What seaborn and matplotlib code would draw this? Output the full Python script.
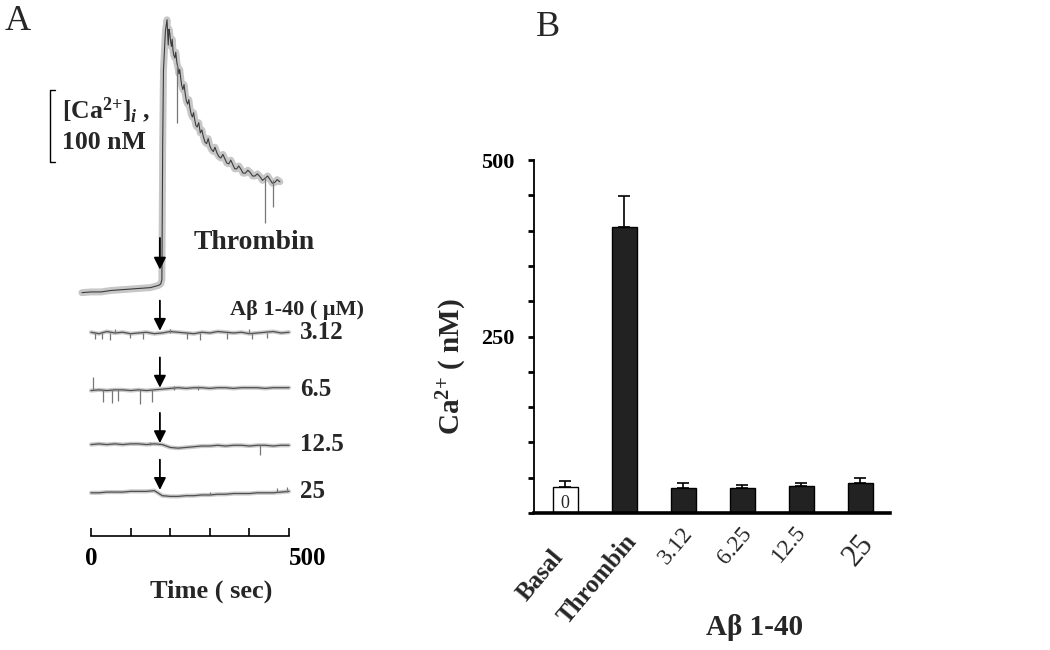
import matplotlib
matplotlib.use("Agg")
import matplotlib.pyplot as plt
import matplotlib.transforms as mtransforms
import seaborn as sns

sns.set_theme(style="white")
plt.rcParams["font.family"] = ["Liberation Serif", "DejaVu Serif"]
plt.rcParams["mathtext.fontset"] = "custom"
plt.rcParams["mathtext.rm"] = "Liberation Serif"
plt.rcParams["mathtext.bf"] = "Liberation Serif:bold"
plt.rcParams["mathtext.it"] = "Liberation Serif:italic:bold"

# ---------------- panel B: mean [Ca2+] (nM)
conditions = ["Basal", "Thrombin", "3.12", "6.25", "12.5", "25"]
ca_mean = [37, 405, 36, 36, 38, 42]
ca_err = [9, 44, 6, 4, 4, 8]
bar_colors = ["white", "#222222", "#222222", "#222222", "#222222", "#222222"]
label_bold = [True, True, False, False, False, False]
label_size = [18, 18, 17, 17, 17, 22]
# label anchor nudges in px (right, down) from bar centre / axis line
label_nudge = [(-15, 33), (-1, 17), (-2, 10), (-2, 10), (-7, 8), (-3, 16)]

# ---------------- panel A: traces (time in sec, Ca in nM above baseline)
thr_t = [-23, 0, 25, 50, 75, 100, 125, 150, 170, 176, 179, 181, 183, 188, 192,
         195, 197, 199, 201, 203, 205, 207, 209, 212, 214, 217, 219, 222, 224, 227,
         229, 232, 235, 238, 241, 244, 247, 250, 253, 256, 259, 262, 265, 268, 272,
         276, 280, 284, 288, 292, 296, 300, 304, 309, 313, 318, 323, 328, 333, 338,
         343, 348, 353, 358, 363, 368, 373, 378, 384, 390, 396, 402, 408, 414, 420,
         427, 433, 440, 446, 452, 458, 464, 470, 477]
thr_ca = [-4, -3, -3, -1, 0, 1, 2, 3, 6, 8, 14, 200, 305, 360, 375,
          340, 362, 356, 345, 338, 348, 333, 326, 322, 330, 315, 310, 300, 306, 292,
          284, 278, 285, 272, 262, 258, 264, 252, 244, 240, 246, 236, 228, 226, 232,
          218, 222, 212, 205, 203, 210, 200, 195, 192, 198, 190, 185, 183, 188, 182,
          176, 175, 180, 174, 168, 168, 172, 168, 162, 162, 166, 163, 158, 158, 161,
          157, 152, 155, 158, 153, 148, 149, 153, 150]
thr_spike_t = [217, 439, 460]
thr_spike_top = [312, 156, 153]
thr_spike_bottom = [232, 93, 115]

flat_t = [0, 20, 40, 60, 80, 100, 120, 140, 160, 180, 200, 220, 240,
          260, 280, 300, 320, 340, 360, 380, 400, 420, 440, 460, 480, 500]
ca_312 = [1, -1, 2, 0, 1, -1, 0, 1, -1, 0, 2, 1, 0, -1, 1, 0, 2, 1, 0, 1, -1, 0, 1, 2, 0, 1]
ca_65 = [-1, 0, -1, 0, 0, -1, 0, -1, 0, 1, 2, 3, 2, 3, 3, 2, 3, 3, 2, 3, 3, 3, 2, 3, 3, 3]
ca_125 = [1, 2, 1, 2, 1, 2, 2, 1, 2, 1, -3, -4, -3, -2, -1, -1, 0, -1, 0, 0, -1, 0, 0, -1, 0, 0]
ca_25 = [-1, -1, 0, 0, 0, 1, 1, 1, 2, -5, -6, -6, -5, -5, -4, -4, -3, -3, -2, -2, -2, -1, -1, -1, 0, 1]
flat_series = [ca_312, ca_65, ca_125, ca_25]
flat_names = ["3.12", "6.5", "12.5", "25"]

spike_t = [[10, 28, 48, 60, 98, 131, 200, 242, 275, 343, 400, 407, 444],
           [5, 30, 53, 68, 124, 154, 210, 270],
           [150, 427],
           [300, 470, 495]]
spike_d = [[-9, -8, -10, 5, -7, -9, 5, -8, -10, -8, 5, -9, -7],
           [18, -17, -18, -15, -20, -17, 6, 5],
           [5, -13],
           [-4, 5, 7]]

addition_t = 174       # time of thrombin / Abeta addition (sec)
scale_nM = 100

# vertical stacking of traces in panel A (layout)
thr_offset = 342
flat_offsets = [282, 203, 126, 61]

fig = plt.figure(figsize=(10.5, 6.5), dpi=100)

# ================= panel A
axA = fig.add_axes([91 / 1050, 114 / 650, 198 / 1050, 526 / 650])
axA.set_xlim(0, 500)
axA.set_ylim(0, 730.6)

thr_y = [v + thr_offset for v in thr_ca]
sns.lineplot(x=thr_t, y=thr_y, ax=axA, color="#9a9a9a", lw=5, alpha=0.55,
             sort=False, estimator=None)
sns.lineplot(x=thr_t, y=thr_y, ax=axA, color="#3c3c3c", lw=0.8,
             sort=False, estimator=None)
axA.vlines(thr_spike_t, [v + thr_offset for v in thr_spike_bottom],
           [v + thr_offset for v in thr_spike_top], color="#777777", lw=0.9)

for vals, off, sp_t, sp_d in zip(flat_series, flat_offsets, spike_t, spike_d):
    y = [v + off for v in vals]
    sns.lineplot(x=flat_t, y=y, ax=axA, color="#a8a8a8", lw=3, alpha=0.6,
                 sort=False, estimator=None)
    sns.lineplot(x=flat_t, y=y, ax=axA, color="#505050", lw=0.9,
                 sort=False, estimator=None)
    axA.vlines(sp_t, off, [off + d for d in sp_d], color="#777777", lw=0.9)

for line in axA.lines:
    line.set_clip_on(False)
for coll in axA.collections:
    coll.set_clip_on(False)

arrow_kw = dict(arrowstyle="-|>", color="black", lw=1.3, mutation_scale=18,
                shrinkA=0, shrinkB=0)
axA.annotate("", xy=(addition_t, thr_offset + 28), xytext=(addition_t, thr_offset + 72),
             arrowprops=arrow_kw, annotation_clip=False)
for off in flat_offsets:
    axA.annotate("", xy=(addition_t, off + 3), xytext=(addition_t, off + 45),
                 arrowprops=arrow_kw, annotation_clip=False)

axA.text(258, 407, "Thrombin", fontsize=20, fontweight="bold", va="center", ha="left")
axA.text(351, 314, "Aβ 1-40 ( μM)", fontsize=16, fontweight="bold", va="center",
         ha="left", clip_on=False)
for name, off in zip(flat_names, flat_offsets):
    axA.text(528, off + 1, name, fontsize=18, fontweight="bold", va="center", ha="left",
             clip_on=False)

# scale bar
sb_x, sb_y0 = -103.5, 520
axA.plot([sb_x + 12, sb_x, sb_x, sb_x + 12], [sb_y0, sb_y0, sb_y0 + scale_nM, sb_y0 + scale_nM],
         color="black", lw=1.0, clip_on=False)
axA.text(-73, 592, r"[Ca$^{\mathbf{2{+}}}$]$_{\mathit{i}}$ ,", fontsize=18.5,
         fontweight="bold", va="center", ha="left")
axA.text(-73, 546, f"{scale_nM} nM", fontsize=18.5, fontweight="bold", va="center", ha="left")

for side in ["top", "right", "left"]:
    axA.spines[side].set_visible(False)
axA.spines["bottom"].set_color("black")
axA.spines["bottom"].set_linewidth(1.2)
axA.set_yticks([])
axA.set_xticks([0, 100, 200, 300, 400, 500])
axA.set_xticklabels(["0", "", "", "", "", "500"], fontsize=18, fontweight="bold")
axA.tick_params(axis="x", direction="in", length=6, width=1.2, pad=8, colors="black",
                bottom=True)
axA.get_xticklabels()[-1].set_ha("left")
axA.set_xlabel("Time ( sec)", fontsize=19, fontweight="bold")
axA.xaxis.set_label_coords(0.606, -0.083)
axA.patch.set_alpha(0)

# ================= panel B
axB = fig.add_axes([534 / 1050, 137 / 650, 356 / 1050, 353 / 650])
sns.barplot(x=conditions, y=ca_mean, hue=conditions, palette=bar_colors, legend=False,
            order=conditions, width=0.42, edgecolor="black", linewidth=1.0, ax=axB)
axB.errorbar(range(len(conditions)), ca_mean, yerr=[[0] * len(ca_err), ca_err],
             fmt="none", ecolor="black", elinewidth=1.2, capsize=4, capthick=1.2)
axB.set_xlim(-0.53, 5.5)
axB.set_ylim(0, 500)
axB.set_yticks(list(range(0, 501, 50)))
axB.set_yticklabels(["250" if v == 250 else "500" if v == 500 else "" for v in range(0, 501, 50)],
                    fontsize=16, fontweight="bold")
axB.tick_params(axis="y", direction="out", length=4, width=2, pad=10, left=True,
                colors="black")
axB.set_xticks([])
for side in ["top", "right"]:
    axB.spines[side].set_visible(False)
axB.spines["left"].set_color("black")
axB.spines["left"].set_linewidth(1.3)
axB.spines["bottom"].set_color("black")
axB.spines["bottom"].set_linewidth(2.6)

axB.text(0, 14, "0", fontsize=13, ha="center", va="center")

for i, (name, bold, size, (dx, dy)) in enumerate(zip(conditions, label_bold, label_size,
                                                     label_nudge)):
    shift = mtransforms.ScaledTranslation(dx / 100, -dy / 100, fig.dpi_scale_trans)
    axB.text(i, 0, name, transform=axB.get_xaxis_transform() + shift, rotation=50,
             rotation_mode="anchor", ha="right", va="top", fontsize=size,
             fontweight="bold" if bold else "normal")

axB.set_ylabel(r"Ca$^{\mathbf{2{+}}}$ ( nM)", fontsize=21, fontweight="bold")
axB.yaxis.set_label_coords(-0.182, 0.414)
axB.set_xlabel("Aβ 1-40", fontsize=21, fontweight="bold")
axB.xaxis.set_label_coords(0.62, -0.285)

fig.text(18 / 1050, 1 - 22 / 650, "A", fontsize=26, ha="center", va="center")
fig.text(548 / 1050, 1 - 28 / 650, "B", fontsize=26, ha="center", va="center")

fig.savefig("out.png", dpi=100, facecolor="white")
